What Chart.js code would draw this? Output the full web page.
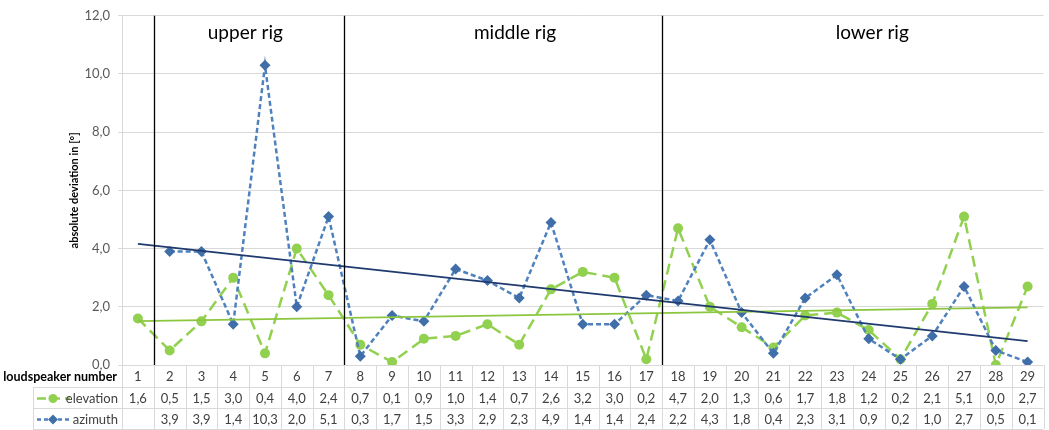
<!DOCTYPE html>
<html>
<head>
<meta charset="utf-8">
<script src="https://cdn.jsdelivr.net/npm/chart.js@4.4.1/dist/chart.umd.min.js"></script>
<style>
  html, body { margin: 0; padding: 0; background: #ffffff; }
  #wrap { width: 1049px; height: 430px; position: relative; }
</style>
</head>
<body>
<div id="wrap"><canvas id="c" width="1049" height="430"></canvas></div>
<script>
// ---- data ----
const categories = ['1','2','3','4','5','6','7','8','9','10','11','12','13','14','15','16','17','18','19','20','21','22','23','24','25','26','27','28','29'];
const elevation = [1.6,0.5,1.5,3.0,0.4,4.0,2.4,0.7,0.1,0.9,1.0,1.4,0.7,2.6,3.2,3.0,0.2,4.7,2.0,1.3,0.6,1.7,1.8,1.2,0.2,2.1,5.1,0.0,2.7];
const azimuth = [null,3.9,3.9,1.4,10.3,2.0,5.1,0.3,1.7,1.5,3.3,2.9,2.3,4.9,1.4,1.4,2.4,2.2,4.3,1.8,0.4,2.3,3.1,0.9,0.2,1.0,2.7,0.5,0.1];
// trend line end points (category, value)
const trendElevationX = ['1','29'];
const trendElevationY = [1.51, 1.98];
const trendAzimuthX = ['1','29'];
const trendAzimuthY = [4.16, 0.82];
const yTicks = [0,2,4,6,8,10,12];
const rigNames = ['upper rig','middle rig','lower rig'];
const rigFirstCategory = ['2','8','18'];
const seriesNames = ['elevation','azimuth'];
const rowTitle = 'loudspeaker number';
const yTitle = 'absolute deviation in [°]';

// ---- styles ----
const FONT = "Lato, 'Open Sans', sans-serif";
const GREEN = '#92d050';
const BLUE = '#4f81bd';
const BLUE_MARK = '#3f6ea8';
const NAVY = '#1f3a6e';
const TREND_GREEN = '#8cc63f';
const GRID = '#d9d9d9';
const TEXT = '#404040';
const rigLabelOffset = [-0.12, 0.37, 0.61]; // label centre shift in category widths
const TABLE_ROWS = [365, 387, 408, 429];
const fmt = v => (v === null || v === undefined) ? '' : v.toFixed(1).replace('.', ',');

const tablePlugin = {
  id: 'tablePlugin',
  afterDraw(chart) {
    const ctx = chart.ctx;
    const x = chart.scales.x;
    const area = chart.chartArea;
    const n = categories.length;
    const w = (area.right - area.left) / n;
    ctx.save();
    // rig separators
    ctx.strokeStyle = '#000000';
    ctx.lineWidth = 1.3;
    rigFirstCategory.forEach((c, i) => {
      const idx = categories.indexOf(c);
      if (i > 0 || idx > 0) {
        const px = Math.round(x.getPixelForValue(idx) - w / 2) + 0.5;
        ctx.beginPath();
        ctx.moveTo(px, area.top);
        ctx.lineTo(px, area.bottom);
        ctx.stroke();
      }
    });
    // rig labels
    ctx.fillStyle = '#000000';
    ctx.font = '19px ' + FONT;
    ctx.textAlign = 'center';
    ctx.textBaseline = 'middle';
    rigNames.forEach((name, i) => {
      const a = categories.indexOf(rigFirstCategory[i]);
      const b = (i + 1 < rigFirstCategory.length) ? categories.indexOf(rigFirstCategory[i + 1]) - 1 : n - 1;
      const left = x.getPixelForValue(a) - w / 2;
      const right = x.getPixelForValue(b) + w / 2;
      const cx = (left + right) / 2 + rigLabelOffset[i] * w;
      ctx.fillText(name, cx, 33);
    });

    // table grid
    ctx.strokeStyle = GRID;
    ctx.lineWidth = 1;
    const tableLeft = 33;
    [1, 2, 3].forEach(r => {
      const y = TABLE_ROWS[r] + 0.5;
      ctx.beginPath();
      ctx.moveTo(tableLeft, y);
      ctx.lineTo(area.right, y);
      ctx.stroke();
    });
    ctx.beginPath();
    ctx.moveTo(tableLeft + 0.5, TABLE_ROWS[1]);
    ctx.lineTo(tableLeft + 0.5, TABLE_ROWS[3]);
    ctx.stroke();
    for (let i = 0; i <= n; i++) {
      const px = Math.round(area.left + i * w) + 0.5;
      ctx.beginPath();
      ctx.moveTo(px, TABLE_ROWS[0]);
      ctx.lineTo(px, TABLE_ROWS[3]);
      ctx.stroke();
    }
    // texts
    ctx.fillStyle = TEXT;
    ctx.font = '13px ' + FONT;
    ctx.textAlign = 'center';
    ctx.textBaseline = 'middle';
    const rowsData = [categories, elevation.map(fmt), azimuth.map(fmt)];
    rowsData.forEach((row, r) => {
      const cy = (TABLE_ROWS[r] + TABLE_ROWS[r + 1]) / 2 + 1;
      row.forEach((t, i) => {
        ctx.fillText(t, x.getPixelForValue(i), cy);
      });
    });
    // row title
    ctx.fillStyle = '#000000';
    ctx.font = 'bold 12.5px ' + FONT;
    ctx.textAlign = 'right';
    ctx.fillText(rowTitle, 117, (TABLE_ROWS[0] + TABLE_ROWS[1]) / 2 + 1);
    // legend rows
    const legendStyles = [
      { color: GREEN, dash: [9, 5], marker: 'circle', mcolor: GREEN },
      { color: BLUE, dash: [4, 3], marker: 'diamond', mcolor: BLUE_MARK }
    ];
    seriesNames.forEach((name, i) => {
      const cy = (TABLE_ROWS[i + 1] + TABLE_ROWS[i + 2]) / 2 + 1;
      const st = legendStyles[i];
      ctx.strokeStyle = st.color;
      ctx.lineWidth = 2.5;
      ctx.setLineDash(st.dash);
      ctx.beginPath();
      ctx.moveTo(37, cy);
      ctx.lineTo(70, cy);
      ctx.stroke();
      ctx.setLineDash([]);
      ctx.fillStyle = st.mcolor;
      ctx.beginPath();
      if (st.marker === 'circle') {
        ctx.arc(53, cy, 4.5, 0, Math.PI * 2);
      } else {
        ctx.moveTo(53, cy - 5); ctx.lineTo(58, cy); ctx.lineTo(53, cy + 5); ctx.lineTo(48, cy);
        ctx.closePath();
      }
      ctx.fill();
      ctx.fillStyle = TEXT;
      ctx.font = '13px ' + FONT;
      ctx.textAlign = 'right';
      ctx.fillText(name, 118, cy);
    });
    ctx.restore();
  }
};

const trendData = (xs, ys) => xs.map((c, i) => ({ x: c, y: ys[i] }));

new Chart(document.getElementById('c'), {
  type: 'line',
  data: {
    labels: categories,
    datasets: [
      {
        label: 'trend azimuth',
        data: trendData(trendAzimuthX, trendAzimuthY),
        borderColor: NAVY, borderWidth: 1.8, pointRadius: 0, tension: 0, fill: false
      },
      {
        label: 'trend elevation',
        data: trendData(trendElevationX, trendElevationY),
        borderColor: TREND_GREEN, borderWidth: 1.8, pointRadius: 0, tension: 0, fill: false
      },
      {
        label: seriesNames[1],
        data: azimuth,
        borderColor: BLUE, borderWidth: 2.5, borderDash: [5, 3],
        pointStyle: 'rectRot', pointRadius: 5.5, pointBackgroundColor: BLUE_MARK,
        pointBorderColor: BLUE_MARK, pointBorderWidth: 0, tension: 0, spanGaps: false, fill: false
      },
      {
        label: seriesNames[0],
        data: elevation,
        borderColor: GREEN, borderWidth: 2.5, borderDash: [11, 6],
        pointStyle: 'circle', pointRadius: 5, pointBackgroundColor: GREEN,
        pointBorderColor: GREEN, pointBorderWidth: 0, tension: 0, fill: false
      }
    ]
  },
  options: {
    responsive: false,
    animation: false,
    events: [],
    layout: { padding: { left: 64, right: 1, top: 14, bottom: 65 } },
    plugins: { legend: { display: false }, tooltip: { enabled: false }, title: { display: false } },
    scales: {
      x: {
        type: 'category',
        display: false,
        offset: true
      },
      y: {
        min: 0, max: 12,
        afterFit(scale) { scale.width = 58; },
        afterBuildTicks(scale) { scale.ticks = yTicks.map(v => ({ value: v })); },
        ticks: {
          color: '#595959',
          font: { family: FONT, size: 13 },
          padding: 8,
          callback: v => fmt(v)
        },
        grid: { color: GRID, lineWidth: 1, drawTicks: true, tickLength: 4, tickColor: GRID },
        border: { display: true, color: GRID },
        title: {
          display: true,
          text: yTitle,
          color: '#000000',
          font: { family: FONT, size: 11, weight: 'bold' },
          padding: { top: 4, bottom: 0 }
        }
      }
    }
  },
  plugins: [tablePlugin]
});
</script>
</body>
</html>
